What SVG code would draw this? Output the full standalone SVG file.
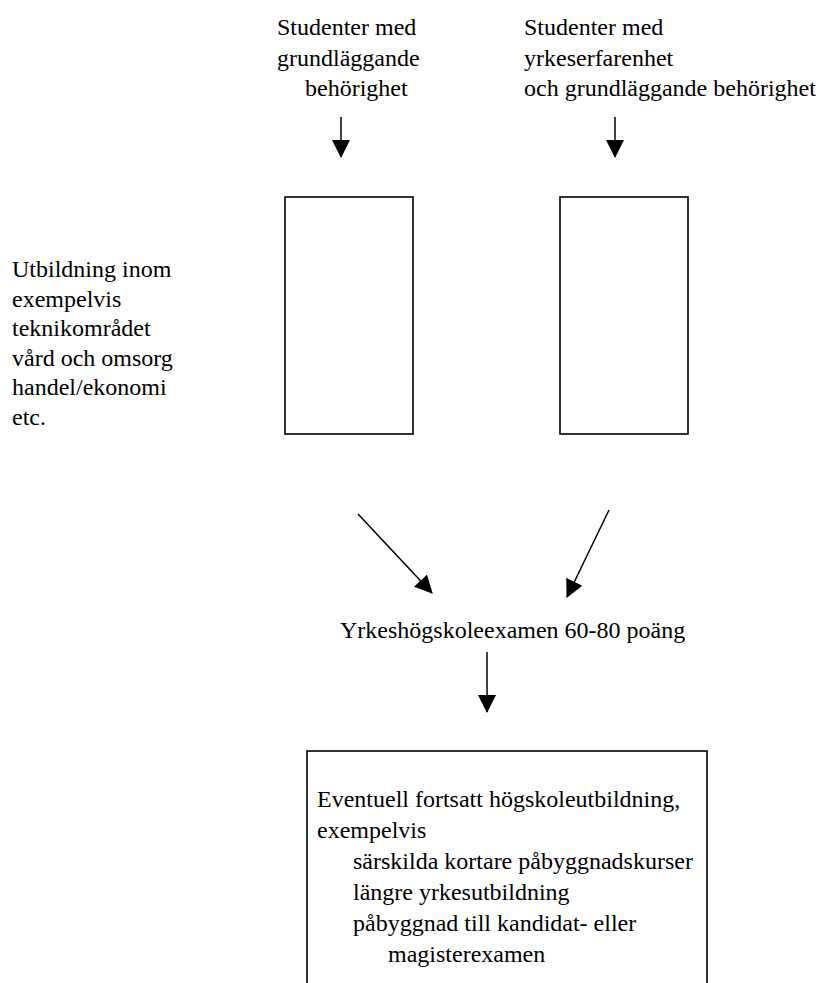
<svg xmlns="http://www.w3.org/2000/svg" width="824" height="983" viewBox="0 0 824 983">
<style>
text{font-family:"Liberation Serif","Times New Roman",serif;font-size:24px;fill:#000}
.box{fill:#fff;stroke:#000;stroke-width:1.6}
.conn{stroke:#000;stroke-width:1.5;fill:none;marker-end:url(#ah)}
</style>
<defs>
<marker id="ah" markerUnits="userSpaceOnUse" markerWidth="18" markerHeight="18" viewBox="0 0 17 17" refX="16" refY="8.5" orient="auto">
<path d="M0,0 L17,8.5 L0,17 z" fill="#000"/>
</marker>
</defs>
<rect width="824" height="983" fill="#fff"/>
<g id="src1">
<text x="277" y="35">Studenter med</text>
<text x="277" y="65.5">grundläggande</text>
<text x="305" y="96">behörighet</text>
</g>
<g id="src2">
<text x="524" y="35">Studenter med</text>
<text x="524" y="65.5">yrkeserfarenhet</text>
<text x="524" y="96">och grundläggande behörighet</text>
</g>
<g id="label-left">
<text x="12" y="277">Utbildning inom</text>
<text x="12" y="306.5">exempelvis</text>
<text x="12" y="336">teknikområdet</text>
<text x="12" y="365.5">vård och omsorg</text>
<text x="12" y="395">handel/ekonomi</text>
<text x="12" y="424.5">etc.</text>
</g>
<g id="box1"><rect class="box" x="285" y="197" width="128" height="237"/></g>
<g id="box2"><rect class="box" x="560" y="197" width="128" height="237"/></g>
<g id="exam"><text x="340" y="638">Yrkeshögskoleexamen 60-80 poäng</text></g>
<g id="further">
<rect class="box" x="307" y="751" width="400" height="260"/>
<text x="317" y="807">Eventuell fortsatt högskoleutbildning,</text>
<text x="317" y="838">exempelvis</text>
<text x="353" y="869">särskilda kortare påbyggnadskurser</text>
<text x="353" y="900">längre yrkesutbildning</text>
<text x="353" y="931">påbyggnad till kandidat- eller</text>
<text x="388" y="962">magisterexamen</text>
</g>
<g id="connectors">
<line class="conn" x1="341" y1="117" x2="341" y2="157"/>
<line class="conn" x1="615" y1="117" x2="615" y2="157"/>
<line class="conn" x1="358" y1="514" x2="432" y2="593"/>
<line class="conn" x1="609" y1="510" x2="567" y2="597"/>
<line class="conn" x1="487" y1="652" x2="487" y2="712"/>
</g>
</svg>
